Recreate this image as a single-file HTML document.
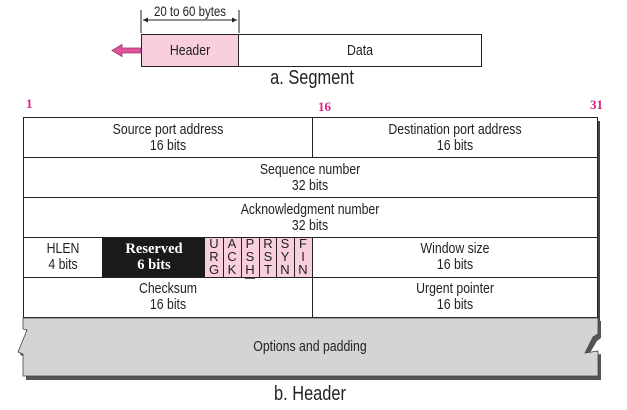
<!DOCTYPE html>
<html><head><style>
html,body{margin:0;padding:0;background:#fff;}
svg{display:block;}
text{font-family:"Liberation Sans",sans-serif;fill:#222;}
.s{font-size:15px;text-anchor:middle;transform-box:fill-box;transform-origin:center;transform:scaleX(0.82);}
.n{font-family:"Liberation Serif",serif;font-weight:bold;font-size:13px;fill:#e0208a;}
</style></head><body>
<svg width="627" height="410" viewBox="0 0 627 410">
<line x1="141" y1="10" x2="141" y2="33" stroke="#222"/>
<line x1="239" y1="10" x2="239" y2="33" stroke="#222"/>
<line x1="143" y1="20" x2="237" y2="20" stroke="#222"/>
<path d="M143 20 l5 -2.5 v5z M237 20 l-5 -2.5 v5z" fill="#222"/>
<text x="190" y="16" class="s" style="font-size:14px">20 to 60 bytes</text>
<rect x="141.5" y="34.5" width="97" height="32" fill="#f9cfe0" stroke="#222"/>
<rect x="238.5" y="34.5" width="243" height="32" fill="#fff" stroke="#222"/>
<text x="190" y="55" class="s">Header</text>
<text x="360" y="55" class="s">Data</text>
<path d="M141 48 h-19 v-3.5 l-10 6 l10 6 v-3.5 h19z" fill="#e0559a" stroke="#a03070" stroke-width="0.8"/>
<text x="312" y="84" class="s" style="font-size:20px">a. Segment</text>
<text x="26" y="108" class="n">1</text>
<text x="318" y="111" class="n">16</text>
<text x="590" y="109" class="n">31</text>
<rect x="597" y="121" width="3" height="200" fill="#444"/>
<rect x="23.5" y="117.5" width="574" height="200" fill="#fff" stroke="#222"/>
<line x1="23" y1="157.5" x2="598" y2="157.5" stroke="#222"/>
<line x1="23" y1="197.5" x2="598" y2="197.5" stroke="#222"/>
<line x1="23" y1="237.5" x2="598" y2="237.5" stroke="#222"/>
<line x1="23" y1="277.5" x2="598" y2="277.5" stroke="#222"/>
<line x1="312.5" y1="117" x2="312.5" y2="157" stroke="#222"/>
<line x1="312.5" y1="237" x2="312.5" y2="318" stroke="#222"/>
<text x="168" y="134" class="s">Source port address</text>
<text x="168" y="150" class="s">16 bits</text>
<text x="455" y="134" class="s">Destination port address</text>
<text x="455" y="150" class="s">16 bits</text>
<text x="310" y="174" class="s">Sequence number</text>
<text x="310" y="190" class="s">32 bits</text>
<text x="310" y="214" class="s">Acknowledgment number</text>
<text x="310" y="230" class="s">32 bits</text>
<text x="63" y="253" class="s">HLEN</text>
<text x="63" y="269" class="s">4 bits</text>
<rect x="102" y="238" width="103" height="39" fill="#1a1a1a"/>
<text x="154" y="253" style="font-family:'Liberation Serif',serif;font-weight:bold;fill:#fff;font-size:14.5px;text-anchor:middle">Reserved</text>
<text x="154" y="269" style="font-family:'Liberation Serif',serif;font-weight:bold;fill:#fff;font-size:14.5px;text-anchor:middle">6 bits</text>
<rect x="205" y="238" width="107" height="39" fill="#f9cfe0"/>
<g stroke="#222"><line x1="223.5" y1="238" x2="223.5" y2="277"/><line x1="241.5" y1="238" x2="241.5" y2="277"/><line x1="259.5" y1="238" x2="259.5" y2="277"/><line x1="276.5" y1="238" x2="276.5" y2="277"/><line x1="294.5" y1="238" x2="294.5" y2="277"/></g>
<g style="font-size:13px;text-anchor:middle">
<text x="214" y="248">U</text><text x="214" y="261">R</text><text x="214" y="274">G</text>
<text x="232" y="248">A</text><text x="232" y="261">C</text><text x="232" y="274">K</text>
<text x="250" y="248">P</text><text x="250" y="261">S</text><text x="250" y="274">H</text>
<text x="268" y="248">R</text><text x="268" y="261">S</text><text x="268" y="274">T</text>
<text x="285" y="248">S</text><text x="285" y="261">Y</text><text x="285" y="274">N</text>
<text x="303" y="248">F</text><text x="303" y="261">I</text><text x="303" y="274">N</text>
</g>
<line x1="245" y1="278" x2="255" y2="278" stroke="#222" stroke-width="1.5"/>
<text x="455" y="253" class="s">Window size</text>
<text x="455" y="269" class="s">16 bits</text>
<text x="168" y="293" class="s">Checksum</text>
<text x="168" y="309" class="s">16 bits</text>
<text x="455" y="293" class="s">Urgent pointer</text>
<text x="455" y="309" class="s">16 bits</text>
<path d="M26 321 H601 V338 L597 341 L588 356 L601 354 V380 H26 V357 L20 355 L29 334 L26 333 Z" fill="#555"/>
<path d="M23 318 H598 V334 L593 337 L585 353 L598 351 V376 H23 V354 L18 352 L27 330 L23 329 Z" fill="#d4d4d6" stroke="#444" stroke-width="0.8"/>
<text x="310" y="351" class="s">Options and padding</text>
<text x="310" y="400" class="s" style="font-size:20px">b. Header</text>
</svg>
</body></html>
